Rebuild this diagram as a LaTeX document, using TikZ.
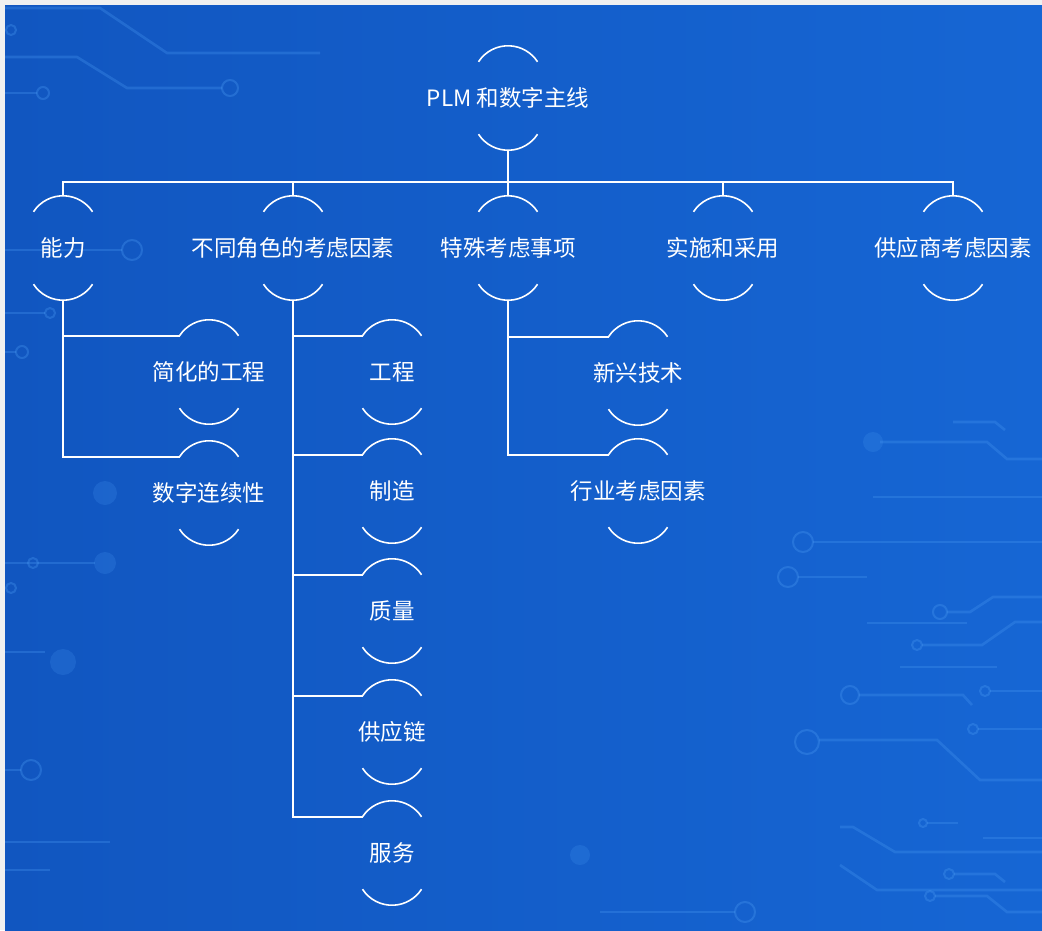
\documentclass[tikz,border=0pt]{standalone}
\usepackage{fontspec}
\newfontfamily\cjk{Noto Sans CJK SC}
\usetikzlibrary{calc}

\definecolor{bgA}{RGB}{17,86,192}
\definecolor{bgB}{RGB}{22,102,212}
\definecolor{trace}{RGB}{70,150,240}
\definecolor{margin}{RGB}{240,240,240}

\tikzset{
	topic/.style={text=white, font=\cjk\fontsize{22.5}{26}\selectfont, minimum height=104pt, inner sep=0pt},
	wire/.style={draw=white, line width=1.6pt},
	track/.style={draw=trace, line width=2.6pt, opacity=0.32},
	pad/.style={draw=trace, line width=2pt, opacity=0.35},
	glow/.style={fill=trace, opacity=0.22},
}

\begin{document}
\begin{tikzpicture}[x=1pt,y=1pt]
	\useasboundingbox (0,0) rectangle (1042,-930);
	\fill[margin] (0,0) rectangle (1042,-930);
	\shade[left color=bgA, right color=bgB] (5,-5) rectangle (1042,-930);

	% circuit tracks in the background
	\draw[track] (5,-8) -- (100,-8) -- (167,-53) -- (320,-53);
	\draw[track] (5,-57) -- (77,-57) -- (127,-88) -- (222,-88);
	\draw[pad] (230,-88) circle[radius=8pt];
	\draw[track] (5,-93) -- (37,-93);
	\draw[pad] (43,-93) circle[radius=6pt];
	\draw[pad] (11,-30) circle[radius=5pt];
	\draw[track] (5,-250) -- (122,-250);
	\draw[pad] (132,-250) circle[radius=10pt];
	\draw[track] (5,-313) -- (45,-313);
	\draw[pad] (50,-313) circle[radius=5pt];
	\draw[track] (5,-352) -- (16,-352);
	\draw[pad] (22,-352) circle[radius=6pt];
	\fill[glow] (105,-493) circle[radius=12pt];
	\draw[track] (5,-563) -- (95,-563);
	\draw[pad] (33,-563) circle[radius=5pt];
	\fill[glow] (105,-563) circle[radius=11pt];
	\draw[pad] (11,-588) circle[radius=5pt];
	\draw[track] (5,-652) -- (45,-652);
	\fill[glow] (63,-662) circle[radius=13pt];
	\draw[track] (5,-770) -- (21,-770);
	\draw[pad] (31,-770) circle[radius=10pt];
	\draw[track] (5,-842) -- (110,-842);
	\draw[track] (5,-870) -- (50,-870);

	\draw[track] (953,-422) -- (995,-422) -- (1005,-430);
	\fill[glow] (873,-442) circle[radius=10pt];
	\draw[track] (880,-442) -- (987,-442) -- (1007,-459) -- (1042,-459);
	\draw[track] (873,-497) -- (1042,-497);
	\draw[pad] (803,-542) circle[radius=10pt];
	\draw[track] (813,-542) -- (1042,-542);
	\draw[pad] (788,-577) circle[radius=10pt];
	\draw[track] (798,-577) -- (867,-577);
	\draw[pad] (940,-612) circle[radius=7pt];
	\draw[track] (947,-612) -- (970,-612) -- (993,-597) -- (1042,-597);
	\draw[track] (867,-623) -- (967,-623);
	\draw[pad] (917,-645) circle[radius=5pt];
	\draw[track] (922,-645) -- (982,-645) -- (1015,-622) -- (1042,-622);
	\draw[track] (900,-667) -- (997,-667);
	\draw[pad] (850,-695) circle[radius=9pt];
	\draw[track] (859,-695) -- (963,-695) -- (972,-705);
	\draw[pad] (985,-691) circle[radius=5pt];
	\draw[track] (990,-691) -- (1042,-691);
	\draw[pad] (973,-729) circle[radius=5pt];
	\draw[track] (978,-729) -- (1042,-729);
	\draw[pad] (807,-742) circle[radius=12pt];
	\draw[track] (819,-740) -- (937,-740) -- (980,-780) -- (1042,-780);
	\draw[track] (840,-827) -- (853,-827) -- (895,-852) -- (1042,-852);
	\draw[pad] (923,-823) circle[radius=4pt];
	\draw[track] (927,-823) -- (958,-823);
	\draw[track] (983,-838) -- (1042,-838);
	\draw[track] (840,-865) -- (877,-890) -- (1042,-890);
	\draw[pad] (949,-874) circle[radius=5pt];
	\draw[track] (954,-874) -- (995,-874) -- (1005,-882);
	\draw[pad] (930,-896) circle[radius=5pt];
	\draw[track] (935,-896) -- (987,-896) -- (1007,-912) -- (1042,-912);
	\fill[glow] (580,-855) circle[radius=10pt];
	\draw[track] (600,-912) -- (735,-912);
	\draw[pad] (745,-912) circle[radius=10pt];

	% the tree
	\node[topic] (root) at (508,-98) {PLM 和数字主线};

	\node[topic] (cap) at (63,-248) {能力};
	\node[topic] (roles) at (293,-248) {不同角色的考虑因素};
	\node[topic] (special) at (508,-248) {特殊考虑事项};
	\node[topic] (impl) at (723,-248) {实施和采用};
	\node[topic] (supp) at (953,-248) {供应商考虑因素};

	\node[topic] (simp) at (209,-372) {简化的工程};
	\node[topic] (digi) at (209,-493) {数字连续性};

	\node[topic] (eng) at (392,-372) {工程};
	\node[topic] (mfg) at (392,-491) {制造};
	\node[topic] (qual) at (392,-611) {质量};
	\node[topic] (chain) at (392,-732) {供应链};
	\node[topic] (serv) at (392,-853) {服务};

	\node[topic] (tech) at (638,-373) {新兴技术};
	\node[topic] (ind) at (638,-491) {行业考虑因素};

	% arcs above and below every label
	\foreach \n in {root,cap,roles,special,impl,supp,simp,digi,eng,mfg,qual,chain,serv,tech,ind} {
		\coordinate (\n-l) at ($(\n.north)+(-29.5,-16)$);
		\draw[wire] (\n-l) arc[start angle=147, end angle=33, radius=35.2pt];
		\draw[wire] ($(\n.south)+(-29.5,16)$) arc[start angle=213, end angle=327, radius=35.2pt];
	}

	\coordinate (bar) at (508,-182);
	\draw[wire] (root.south) -- (bar);
	\draw[wire] (cap.north) |- (bar) -| (supp.north);
	\foreach \n in {roles,special,impl}
		\draw[wire] (\n.north) -- (\n.north |- bar);

	\foreach \n in {simp,digi}
		\draw[wire] (cap.south) |- (\n-l);
	\foreach \n in {eng,mfg,qual,chain,serv}
		\draw[wire] (roles.south) |- (\n-l);
	\foreach \n in {tech,ind}
		\draw[wire] (special.south) |- (\n-l);
\end{tikzpicture}
\end{document}
